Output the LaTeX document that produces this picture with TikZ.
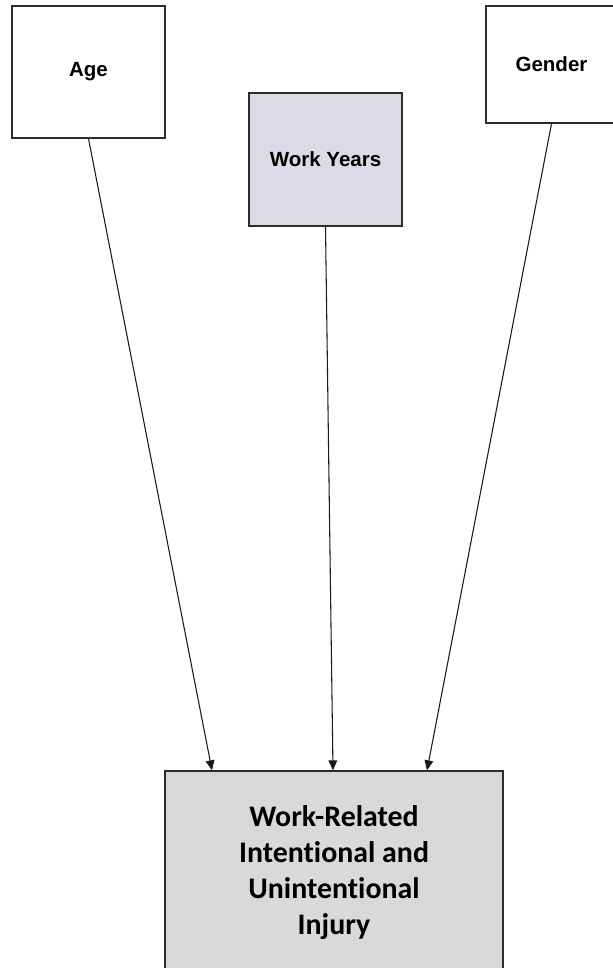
\documentclass[tikz,border=0pt]{standalone}
\usepackage{fontspec}
\newfontfamily\arialfont{Liberation Sans}
\newfontfamily\calibrifont[Ligatures=NoCommon]{Carlito}
\usepackage{tikz}
\usetikzlibrary{arrows.meta,positioning}

\definecolor{yearsfill}{RGB}{221,217,231}
\definecolor{injuryfill}{RGB}{217,217,217}
\definecolor{boxline}{RGB}{45,45,45}

\begin{document}
\begin{tikzpicture}[x=0.75pt, y=-0.75pt, >={Triangle[length=7.5pt,width=6.5pt]},
    factor/.style={draw=boxline, line width=1pt, fill=white, inner sep=0pt,
        font=\arialfont\bfseries\fontsize{15.4}{18}\selectfont},
    outcome/.style={draw=boxline, line width=1pt, fill=injuryfill, inner sep=0pt,
        align=center, font=\calibrifont\bfseries\fontsize{22.4}{27}\selectfont},
    link/.style={->, line width=0.8pt, black!90}]

    % --- Frame ---
    \useasboundingbox (0,0) rectangle (613,968);
    \clip (0,0) rectangle (613,968);

    % --- Predictors ---
    \node[factor, minimum width=114.75pt, minimum height=99pt] (age) at (88.5,72) {Age};
    \node[factor, fill=yearsfill, minimum width=114.75pt, minimum height=99.75pt] (years) at (325.5,159.5) {Work Years};
    \node[factor, minimum width=98.25pt, minimum height=87.75pt] (gender) at (551.5,64.5) {Gender};

    % --- Outcome ---
    \node[outcome, minimum width=253.5pt, minimum height=152.25pt] (injury) at (334,872.5)
        {Work-Related\\Intentional and\\Unintentional\\Injury};

    % Links into the outcome box
    \draw[link] (age.south) -- ([xshift=-91.5pt]injury.north);
    \draw[link] (years.south) -- ([xshift=-0.75pt]injury.north);
    \draw[link] (gender.south) -- ([xshift=69.75pt]injury.north);

\end{tikzpicture}
\end{document}
